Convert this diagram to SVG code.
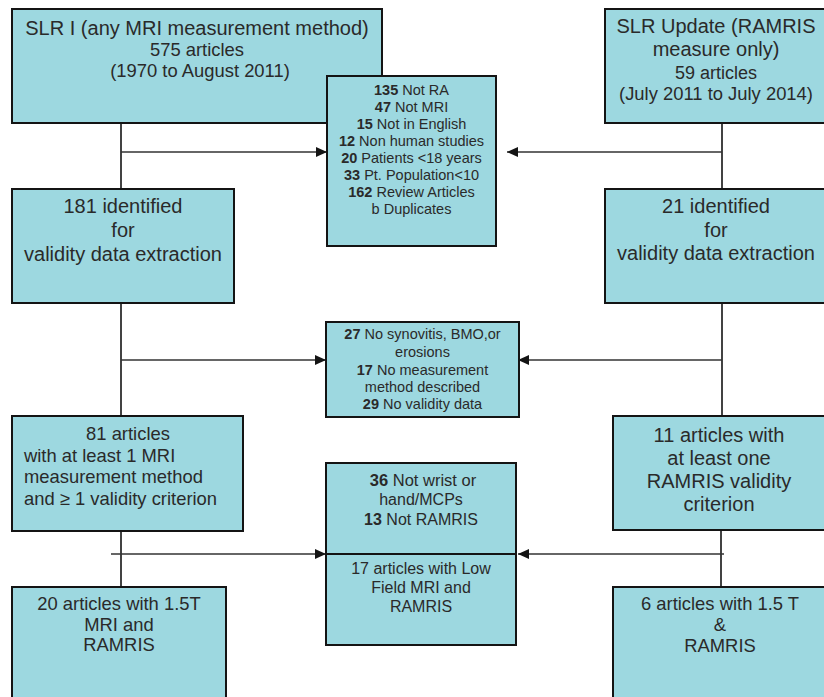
<svg xmlns="http://www.w3.org/2000/svg" width="824" height="697" viewBox="0 0 824 697">
<style>
.box{fill:#9dd8e0;stroke:#141414;stroke-width:2}
.t{font-family:"Liberation Sans",Arial,sans-serif;fill:#2a2a2a;text-anchor:middle}
.big{font-size:20px}
.mid{font-size:18.4px}
.sm{font-size:14.5px}
.md{font-size:16px}
.l{text-anchor:start}
.c{stroke:#141414;stroke-width:1.6;fill:none}
.h{stroke:#333;stroke-width:1.4;fill:none}
.b{font-weight:bold}
</style>
<defs>
<marker id="arr" markerWidth="12" markerHeight="10" refX="11" refY="5" orient="auto" markerUnits="userSpaceOnUse">
<path d="M0,0 L11,5 L0,10 Z" fill="#141414"/>
</marker>
</defs>
<rect width="824" height="697" fill="#fff"/>
<g id="connectors">
<line class="c" x1="121" y1="123" x2="121" y2="189"/>
<line class="h" x1="121" y1="152" x2="327" y2="152" marker-end="url(#arr)"/>
<line class="c" x1="722" y1="123" x2="722" y2="189"/>
<line class="h" x1="722" y1="152" x2="507" y2="152" marker-end="url(#arr)"/>
<line class="c" x1="121" y1="303" x2="121" y2="416"/>
<line class="h" x1="121" y1="360" x2="326" y2="360" marker-end="url(#arr)"/>
<line class="c" x1="722" y1="303" x2="722" y2="416"/>
<line class="h" x1="722" y1="360" x2="518" y2="360" marker-end="url(#arr)"/>
<line class="c" x1="121" y1="531" x2="121" y2="587"/>
<line class="h" x1="111" y1="554" x2="326" y2="554" marker-end="url(#arr)"/>
<line class="c" x1="721" y1="530" x2="721" y2="587"/>
<line class="h" x1="724" y1="554" x2="518" y2="554" marker-end="url(#arr)"/>
</g>
<g id="slr1">
<rect class="box" x="12" y="9" width="370" height="114"/>
<text class="t big" x="197" y="35">SLR I (any MRI measurement method)</text>
<text class="t mid" x="197" y="56">575 articles</text>
<text class="t mid" x="200" y="77">(1970 to August 2011)</text>
</g>
<g id="slrupdate">
<rect class="box" x="605" y="9" width="230" height="114"/>
<text class="t big" x="716" y="33">SLR Update (RAMRIS</text>
<text class="t big" x="716" y="56">measure only)</text>
<text class="t" style="font-size:18px" x="716" y="79">59 articles</text>
<text class="t mid" x="716" y="100">(July 2011 to July 2014)</text>
</g>
<g id="excl1">
<rect class="box" x="327" y="76" width="169" height="170"/>
<text class="t sm" x="411.5" y="95"><tspan class="b">135</tspan> Not RA</text>
<text class="t sm" x="411.5" y="112"><tspan class="b">47</tspan> Not MRI</text>
<text class="t sm" x="411.5" y="129"><tspan class="b">15</tspan> Not in English</text>
<text class="t sm" x="411.5" y="146"><tspan class="b">12</tspan> Non human studies</text>
<text class="t sm" x="411.5" y="163"><tspan class="b">20</tspan> Patients &lt;18 years</text>
<text class="t sm" x="411.5" y="180"><tspan class="b">33</tspan> Pt. Population&lt;10</text>
<text class="t sm" x="411.5" y="197"><tspan class="b">162</tspan> Review Articles</text>
<text class="t sm" x="411.5" y="214">b Duplicates</text>
</g>
<g id="id181">
<rect class="box" x="12" y="189" width="222" height="114"/>
<text class="t big" x="123" y="213">181 identified</text>
<text class="t big" x="123" y="237">for</text>
<text class="t big" x="123" y="261">validity data extraction</text>
</g>
<g id="id21">
<rect class="box" x="605" y="189" width="230" height="114"/>
<text class="t big" x="716" y="213">21 identified</text>
<text class="t big" x="716" y="237">for</text>
<text class="t big" x="716" y="260">validity data extraction</text>
</g>
<g id="excl2">
<rect class="box" x="326" y="322" width="193" height="95"/>
<text class="t sm" x="422.5" y="339"><tspan class="b">27</tspan> No synovitis, BMO,or</text>
<text class="t sm" x="422.5" y="357">erosions</text>
<text class="t sm" x="422.5" y="375"><tspan class="b">17</tspan> No measurement</text>
<text class="t sm" x="422.5" y="392">method described</text>
<text class="t sm" x="422.5" y="409"><tspan class="b">29</tspan> No validity data</text>
</g>
<g id="a81">
<rect class="box" x="12" y="416" width="231" height="115"/>
<text class="t mid" x="128" y="440">81 articles</text>
<text class="t mid l" x="24" y="462">with at least 1 MRI</text>
<text class="t mid l" x="24" y="483">measurement method</text>
<text class="t mid l" x="24" y="505">and  ≥ 1 validity criterion</text>
</g>
<g id="a11">
<rect class="box" x="613" y="416" width="222" height="114"/>
<text class="t big" x="719" y="442">11 articles with</text>
<text class="t big" x="719" y="465">at least one</text>
<text class="t big" x="719" y="488">RAMRIS validity</text>
<text class="t big" x="719" y="511">criterion</text>
</g>
<g id="excl3">
<rect class="box" x="326" y="463" width="190" height="182"/>
<line x1="326" y1="554" x2="516" y2="554" stroke="#141414" stroke-width="2"/>
<text class="t md" x="423" y="486" style="font-size:16.5px"><tspan class="b">36</tspan>  Not wrist or</text>
<text class="t md" x="421" y="505">hand/MCPs</text>
<text class="t md" x="421" y="525"><tspan class="b">13</tspan> Not RAMRIS</text>
<text class="t md" x="421" y="574">17 articles with Low</text>
<text class="t md" x="421" y="593">Field MRI and</text>
<text class="t md" x="421" y="612">RAMRIS</text>
</g>
<g id="a20">
<rect class="box" x="12" y="587" width="214" height="120"/>
<text class="t mid" x="119" y="610">20 articles with 1.5T</text>
<text class="t mid" x="119" y="631">MRI and</text>
<text class="t mid" x="119" y="651">RAMRIS</text>
</g>
<g id="a6">
<rect class="box" x="613" y="587" width="222" height="120"/>
<text class="t mid" x="720" y="610">6 articles with 1.5 T</text>
<text class="t mid" x="720" y="631">&amp;</text>
<text class="t mid" x="720" y="652">RAMRIS</text>
</g>
</svg>
